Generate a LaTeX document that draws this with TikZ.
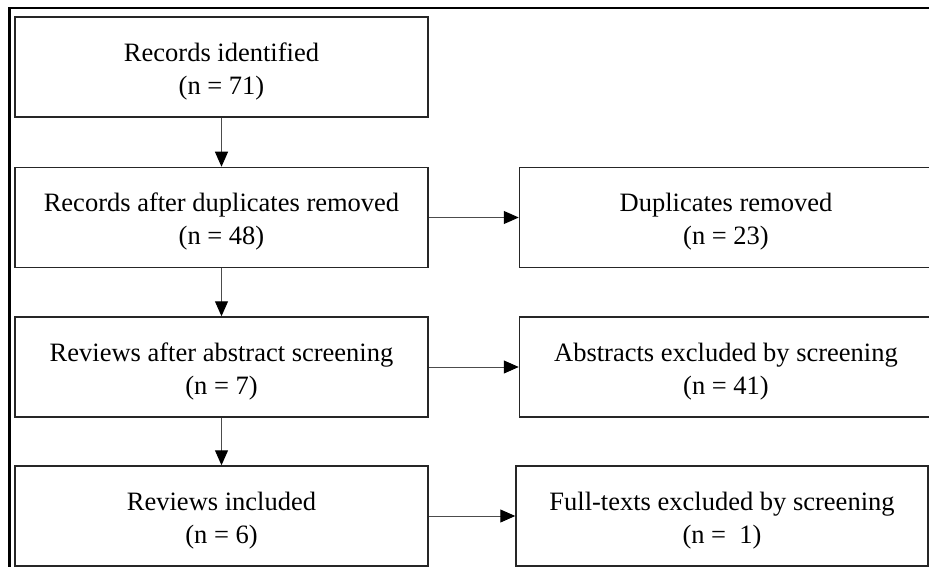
\documentclass[tikz,border=0pt]{standalone}
\usepackage{fontspec}
\setmainfont{Liberation Serif}
\usetikzlibrary{arrows.meta}
% two centred lines: a caption and its count, set a little low in the box
\newcommand{\stagetext}[2]{\rule{0pt}{26.7pt}#1\\#2}
\begin{document}
\begin{tikzpicture}[x=1pt,y=1pt,
  stagebox/.style={draw=black!85, line width=1.5pt, fill=white,
    minimum width=413pt, minimum height=100pt, inner sep=0pt,
    align=center, font=\fontsize{26.5}{33}\selectfont},
  flow/.style={draw=black!70, line width=1pt,
    -{Triangle[length=15pt,width=13pt,fill=black,color=black]}}]
  \useasboundingbox (0,0) rectangle (929,-567);
  \clip (0,0) rectangle (929,-567);
  \fill[white] (0,0) rectangle (929,-567);
  % surrounding frame
  \draw[line width=2.2pt, black] (9.5,-700) -- (9.5,-8) -- (1100,-8);
  % main column
  \node[stagebox] (ident) at (221.5,-67)    {\stagetext{Records identified}{(n = 71)}};
  \node[stagebox] (dedup) at (221.5,-217.5) {\stagetext{Records after duplicates removed}{(n = 48)}};
  \node[stagebox] (abs)   at (221.5,-367)   {\stagetext{Reviews after abstract screening}{(n = 7)}};
  \node[stagebox] (incl)  at (221.5,-516)   {\stagetext{Reviews included}{(n = 6)}};
  % exclusion column
  \node[stagebox] (dup)   at (726,-217.5) {\stagetext{Duplicates removed}{(n = 23)}};
  \node[stagebox] (absx)  at (726,-367)   {\stagetext{Abstracts excluded by screening}{(n = 41)}};
  \node[stagebox, minimum width=412pt] (fullx) at (722,-516)
    {\stagetext{Full-texts excluded by screening}{(n =~~1)}};
  % connectors
  \draw[flow] (ident) -- (dedup);
  \draw[flow] (dedup) -- (abs);
  \draw[flow] (abs) -- (incl);
  \draw[flow] (dedup) -- (dup);
  \draw[flow] (abs) -- (absx);
  \draw[flow] (incl) -- (fullx);
\end{tikzpicture}
\end{document}
